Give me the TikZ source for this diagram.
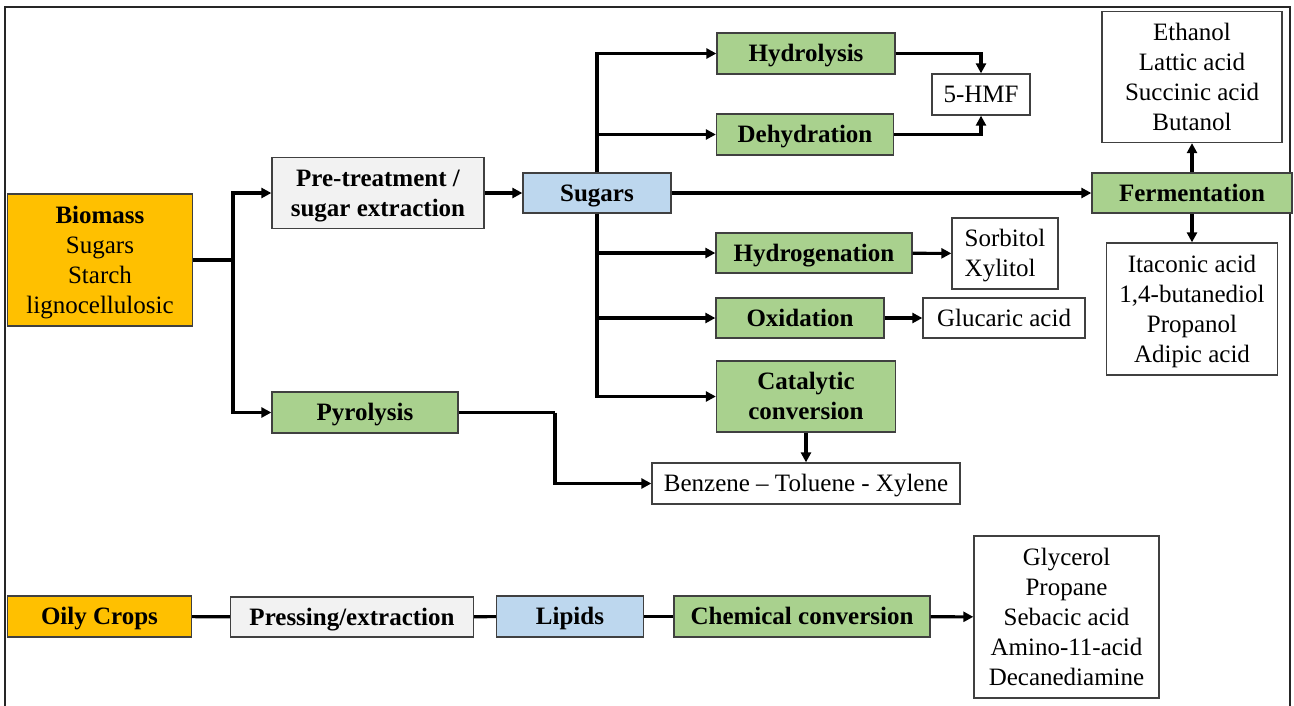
\documentclass[tikz,border=0pt]{standalone}
\usepackage{fontspec}
\setmainfont{Liberation Serif}
\usetikzlibrary{arrows.meta}
\definecolor{feedorange}{HTML}{FFC000}
\definecolor{procgreen}{HTML}{A9D18E}
\definecolor{midblue}{HTML}{BDD7EE}
\definecolor{prepgray}{HTML}{F2F2F2}
\begin{document}
\begin{tikzpicture}[
        x=1pt, y=-1pt,
        every node/.style={font=\fontsize{25}{30}\selectfont, inner sep=2pt, align=center,
            text height=16.5pt, text depth=0pt},
        box/.style={draw=black!75, line width=1.3pt},
        feed/.style={box, fill=feedorange, font=\fontsize{25}{30}\selectfont\bfseries},
        prep/.style={box, fill=prepgray, font=\fontsize{25}{30}\selectfont\bfseries},
        mid/.style={box, fill=midblue, font=\fontsize{25}{30}\selectfont\bfseries},
        proc/.style={box, fill=procgreen, font=\fontsize{25}{30}\selectfont\bfseries},
        prod/.style={box, fill=white},
        link/.style={draw, line width=3.1pt},
        arr/.style={link, -{Triangle[length=10pt, width=10pt]}}
    ]
    \useasboundingbox (0,0) rectangle (1294,705);
    \draw[line width=1.6pt, black!85] (5,712) |- (1290,7) -- (1290,712);

    \node[feed, minimum width=185, minimum height=132, text height=106.5pt] (bio) at (100,260)
        {Biomass\\\mdseries Sugars\\\mdseries Starch\\\mdseries lignocellulosic};
    \node[prep, minimum width=212, minimum height=71, text height=46.5pt] (pre) at (378,193) {Pre-treatment /\\sugar extraction};
    \node[mid, minimum width=148, minimum height=40] (sug) at (597,193) {Sugars};
    \node[proc, minimum width=186, minimum height=41] (pyr) at (365,412.5) {Pyrolysis};

    \node[proc, minimum width=178, minimum height=41] (hyd) at (806,53.5) {Hydrolysis};
    \node[proc, minimum width=177, minimum height=41] (deh) at (805,134.5) {Dehydration};
    \node[prod, minimum width=98, minimum height=41] (hmf) at (981,94.5) {5-HMF};
    \node[proc, minimum width=196, minimum height=40] (hgn) at (814,253) {Hydrogenation};
    \node[prod, minimum width=106, minimum height=71, align=left, text height=46.5pt] (sx) at (1005,253.5) {Sorbitol\\Xylitol};
    \node[proc, minimum width=168, minimum height=40] (oxi) at (800,318) {Oxidation};
    \node[prod, minimum width=162, minimum height=40] (glu) at (1004,318) {Glucaric acid};
    \node[proc, minimum width=179, minimum height=71, text height=46.5pt] (cat) at (806,396.5) {Catalytic\\conversion};
    \node[prod, minimum width=308, minimum height=41] (btx) at (806,483.5) {Benzene -- Toluene - Xylene};

    \node[proc, minimum width=200, minimum height=40] (fer) at (1192,193) {Fermentation};
    \node[prod, minimum width=180, minimum height=131, text height=106.5pt] (top) at (1192,77)
        {Ethanol\\Lattic acid\\Succinic acid\\Butanol};
    \node[prod, minimum width=171, minimum height=132, text height=106.5pt] (bot) at (1192,309)
        {Itaconic acid\\1,4-butanediol\\Propanol\\Adipic acid};

    \node[feed, minimum width=184, minimum height=41] (oil) at (99.5,616.5) {Oily Crops};
    \node[prep, minimum width=243, minimum height=40] (prs) at (352,617) {Pressing/extraction};
    \node[mid, minimum width=147, minimum height=41] (lip) at (570,616.5) {Lipids};
    \node[proc, minimum width=256, minimum height=41] (chm) at (802,616.5) {Chemical conversion};
    \node[prod, minimum width=185, minimum height=162, text height=136.5pt] (ops) at (1066.5,617)
        {Glycerol\\Propane\\Sebacic acid\\Amino-11-acid\\Decanediamine};

    \coordinate (split) at (233,260);
    \coordinate (bend) at (555,412.5);

    \draw[link] (bio) -- (split);
    \draw[arr] (split) |- (pre);
    \draw[arr] (split) |- (pyr);
    \draw[arr] (pre) -- (sug);
    \draw[arr] (sug) -- (fer);
    \draw[arr] (sug.north) |- (hyd);
    \draw[arr] (sug.north) |- (deh);
    \draw[arr] (sug.south) |- (hgn);
    \draw[arr] (sug.south) |- (oxi);
    \draw[arr] (sug.south) |- (cat);
    \draw[arr] (hyd) -| (hmf);
    \draw[arr] (deh) -| (hmf);
    \draw[arr] (hgn) -- (sx);
    \draw[arr] (oxi) -- (glu);
    \draw[arr] (cat) -- (btx);
    \draw[link] (pyr) -- (bend);
    \draw[arr] (bend) |- (btx);
    \draw[arr] (fer) -- (top);
    \draw[arr] (fer) -- (bot);

    \draw[link] (oil) -- (prs);
    \draw[link] (prs) -- (lip);
    \draw[link] (lip) -- (chm);
    \draw[arr] (chm) -- (ops);
\end{tikzpicture}
\end{document}
